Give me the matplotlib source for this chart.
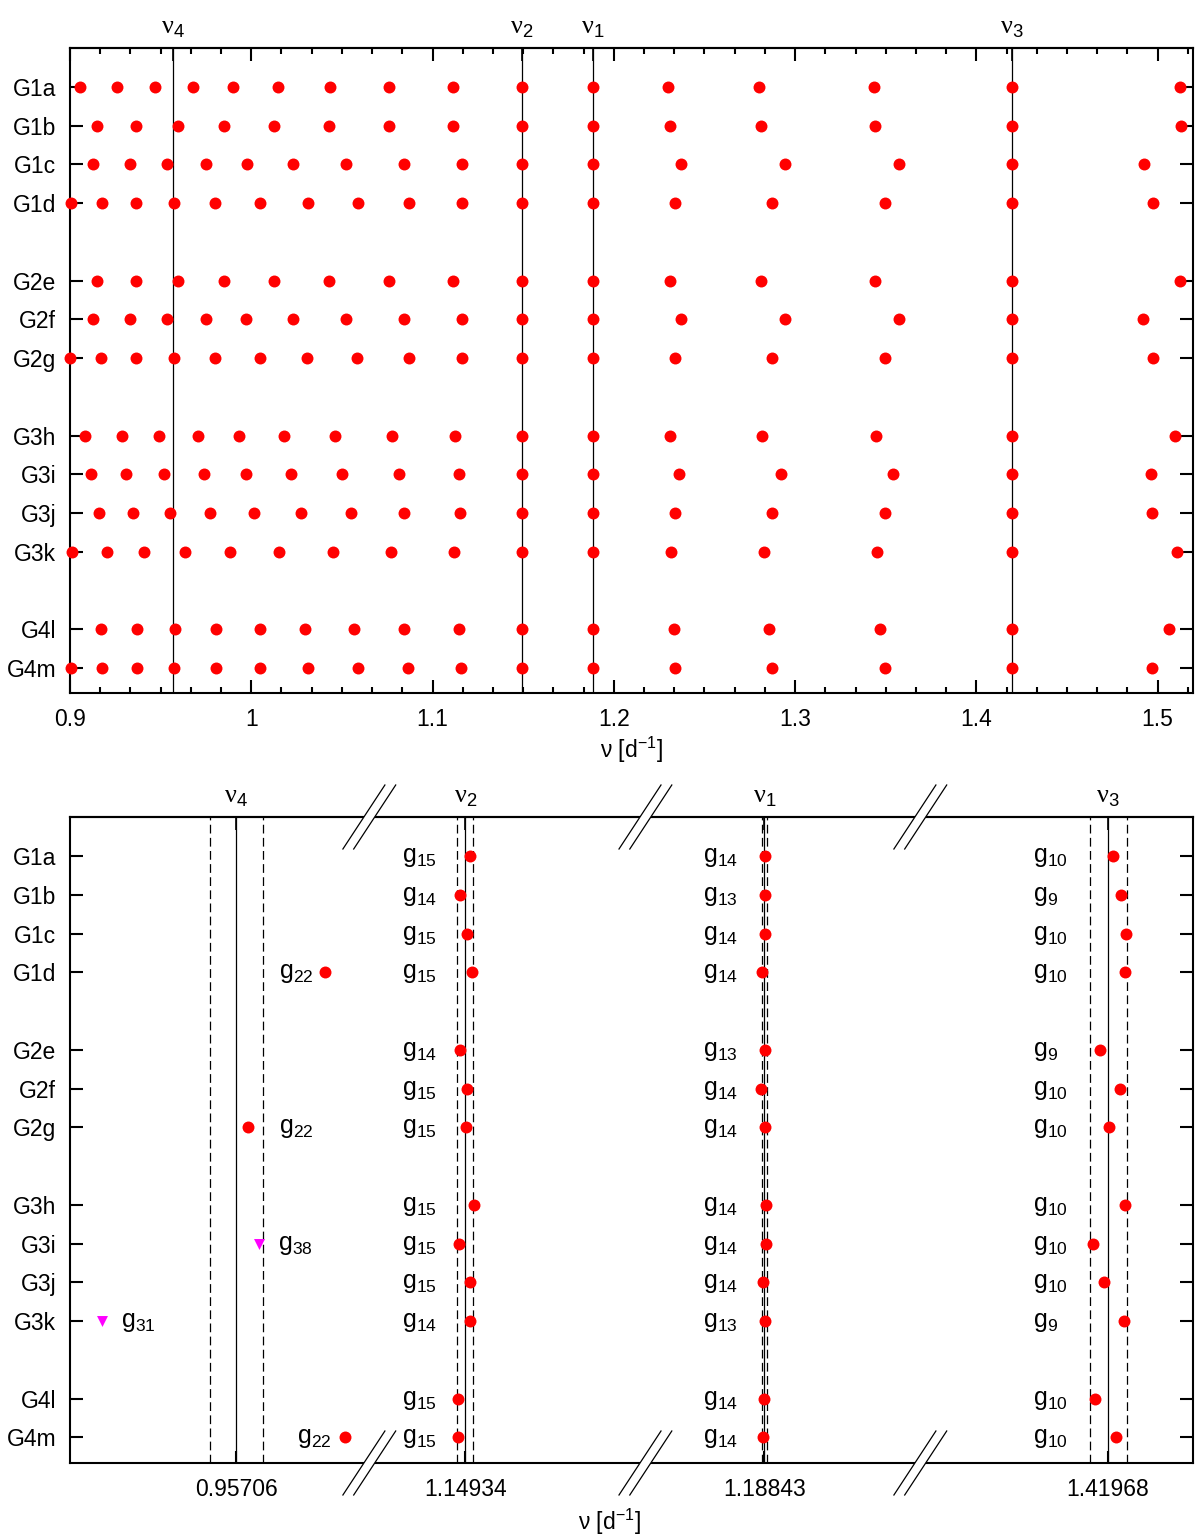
import matplotlib
matplotlib.use('Agg')
import matplotlib.pyplot as plt
from matplotlib.lines import Line2D
from matplotlib.patches import Polygon
from matplotlib.ticker import MultipleLocator, FuncFormatter

plt.rcParams['font.family'] = ['Liberation Sans', 'DejaVu Sans']
plt.rcParams['mathtext.fontset'] = 'custom'
plt.rcParams['mathtext.rm'] = 'Liberation Sans'
plt.rcParams['mathtext.it'] = 'Liberation Sans'
plt.rcParams['mathtext.bf'] = 'Liberation Sans:bold'
plt.rcParams['mathtext.cal'] = 'Liberation Serif'
plt.rcParams['mathtext.default'] = 'regular'

# ---------------- data ----------------
models = ['G1a', 'G1b', 'G1c', 'G1d', 'G2e', 'G2f', 'G2g',
          'G3h', 'G3i', 'G3j', 'G3k', 'G4l', 'G4m']
rows = [0, 1, 2, 3, 5, 6, 7, 9, 10, 11, 12, 14, 15]

nu_names = [r'$\mathcal{ν}_{4}$', r'$\mathcal{ν}_{2}$', r'$\mathcal{ν}_{1}$', r'$\mathcal{ν}_{3}$']
nu_obs = [0.95706, 1.14934, 1.18843, 1.41968]
nu_err = [0.000133, 0.000040, 0.0000105, 0.0000925]
nu_ticklabels = ['0.95706', '1.14934', '1.18843', '1.41968']

# model modes matched to nu2, nu1, nu3
f_nu2 = [1.149365, 1.149315, 1.149346, 1.149373, 1.149311, 1.149350, 1.149342,
         1.149384, 1.149308, 1.149363, 1.149361, 1.149304, 1.149304]
g_nu2 = [15, 14, 15, 15, 14, 15, 15, 15, 15, 15, 14, 15, 15]
f_nu1 = [1.188432, 1.188434, 1.188432, 1.188420, 1.188432, 1.188415, 1.188432,
         1.188438, 1.188438, 1.188425, 1.188432, 1.188426, 1.188423]
g_nu1 = [14, 13, 14, 14, 13, 14, 14, 14, 14, 14, 13, 14, 14]
f_nu3 = [1.419705, 1.419747, 1.419770, 1.419763, 1.419642, 1.419741, 1.419684,
         1.419766, 1.419606, 1.419659, 1.419759, 1.419617, 1.419720]
g_nu3 = [10, 9, 10, 10, 9, 10, 10, 10, 10, 10, 9, 10, 10]

# modes close to nu4
nu4_models = ['G1d', 'G2g', 'G4m']
nu4_freq = [0.957506, 0.957118, 0.957604]
nu4_g = [22, 22, 22]
tri_models = ['G3i', 'G3k']
tri_freq = [0.957173, 0.956389]
tri_g = [38, 31]

# remaining model frequencies (top panel)
freq_G1a = [0.90547, 0.92589, 0.94674, 0.96800, 0.99011, 1.01495, 1.04358, 1.07579, 1.11116, 1.23000, 1.28008, 1.34325, 1.51248]
freq_G1b = [0.91495, 0.93642, 0.95958, 0.98484, 1.01242, 1.04274, 1.07579, 1.11116, 1.23085, 1.28113, 1.34389, 1.51291]
freq_G1c = [0.91284, 0.93305, 0.95368, 0.97495, 0.99747, 1.02316, 1.05242, 1.08400, 1.11621, 1.23697, 1.29423, 1.35719, 1.49221]
freq_G1d = [0.90042, 0.91747, 0.93663, 0.98021, 1.00484, 1.03116, 1.05874, 1.08674, 1.11600, 1.23381, 1.28726, 1.34938, 1.49727]
freq_G2e = [0.91495, 0.93642, 0.95958, 0.98484, 1.01242, 1.04274, 1.07579, 1.11116, 1.23085, 1.28113, 1.34389, 1.51248]
freq_G2f = [0.91263, 0.93284, 0.95368, 0.97495, 0.99726, 1.02316, 1.05242, 1.08400, 1.11621, 1.23697, 1.29423, 1.35719, 1.49200]
freq_G2g = [0.90000, 0.91726, 0.93663, 0.98000, 1.00463, 1.03095, 1.05853, 1.08674, 1.11600, 1.23359, 1.28705, 1.34938, 1.49727]
freq_G3h = [0.90842, 0.92842, 0.94926, 0.97074, 0.99347, 1.01832, 1.04632, 1.07768, 1.11221, 1.23106, 1.28198, 1.34473, 1.50932]
freq_G3i = [0.91137, 0.93116, 0.95200, 0.97389, 0.99684, 1.02211, 1.05032, 1.08147, 1.11432, 1.23592, 1.29212, 1.35424, 1.49643]
freq_G3j = [0.91600, 0.93453, 0.95495, 0.97705, 1.00126, 1.02716, 1.05495, 1.08421, 1.11495, 1.23359, 1.28705, 1.34959, 1.49664]
freq_G3k = [0.90126, 0.92021, 0.94084, 0.96358, 0.98821, 1.01516, 1.04484, 1.07705, 1.11200, 1.23169, 1.28261, 1.34494, 1.51058]
freq_G4l = [0.91684, 0.93684, 0.95789, 0.98063, 1.00484, 1.02989, 1.05642, 1.08421, 1.11432, 1.23317, 1.28557, 1.34663, 1.50636]
freq_G4m = [0.90042, 0.91789, 0.93684, 0.98042, 1.00505, 1.03116, 1.05874, 1.08653, 1.11579, 1.23381, 1.28705, 1.34938, 1.49685]
other_freqs = [freq_G1a, freq_G1b, freq_G1c, freq_G1d, freq_G2e, freq_G2f, freq_G2g,
               freq_G3h, freq_G3i, freq_G3j, freq_G3k, freq_G4l, freq_G4m]

top_xlim = (0.9, 1.5195)
seg_xlim = [(0.9562295, 0.9577245), (1.148858, 1.150238),
            (1.187833, 1.189208), (1.418740, 1.420105)]

# ---------------- style ----------------
W, H = 1196, 1537
FS = 16.5
GFS = 18
NUFS = 19
RED = '#ff0000'
MAG = '#ff00ff'
SPW = 1.5
DOT_S = 74

fig = plt.figure(figsize=(W / 100, H / 100), dpi=100)


def fx(px):
    return px / W


def fy(py):
    return 1 - py / H


# ---------------- top panel ----------------
ax = fig.add_axes([fx(70), fy(693), fx(1193) - fx(70), fy(48) - fy(693)])
ax.set_xlim(*top_xlim)
ax.set_ylim(15.645, -1.006)
for s in ax.spines.values():
    s.set_linewidth(SPW)

for v in nu_obs:
    ax.axvline(v, color='black', lw=0.9, zorder=1)

for i, m in enumerate(models):
    xs = list(other_freqs[i]) + [f_nu2[i], f_nu1[i], f_nu3[i]]
    if m in nu4_models:
        xs.append(nu4_freq[nu4_models.index(m)])
    ax.scatter(xs, [rows[i]] * len(xs), s=DOT_S, color=RED, linewidths=0,
               zorder=3, clip_on=False)

ax.xaxis.set_major_locator(MultipleLocator(0.1))
ax.xaxis.set_minor_locator(MultipleLocator(0.1 / 6))
ax.xaxis.set_major_formatter(FuncFormatter(lambda x, p: f'{round(x, 4):g}'))
ax.tick_params(axis='x', which='major', direction='in', length=9.5, width=SPW,
               top=True, bottom=True, labelsize=FS, pad=11)
ax.tick_params(axis='x', which='minor', direction='in', length=4.5, width=SPW,
               top=True, bottom=True)
ax.set_yticks(rows)
ax.set_yticklabels(models)
ax.tick_params(axis='y', direction='in', length=9.5, width=SPW, left=True,
               right=True, labelsize=FS, pad=10)

sec = ax.secondary_xaxis('top')
sec.set_xticks(nu_obs, labels=nu_names)
sec.tick_params(direction='in', length=9.5, width=1.2, labelsize=NUFS, pad=6)
sec.spines['top'].set_linewidth(SPW)

fig.text(fx(631), fy(750), 'ν [d$^{-1}$]', fontsize=FS, ha='center', va='center')

# ---------------- bottom panel (broken axis) ----------------
seg_px = [70, 369, 645, 920, 1193]
label_dx = [None, -63.4, -61.4, -75.0]          # px, left edge of g labels
nu4_label_dx = [42.5, 42.5, 60.5]
tri_label_dx = [42.0, -115.0]
seg_freqs = [None, f_nu2, f_nu1, f_nu3]
seg_g = [None, g_nu2, g_nu1, g_nu3]
PT = 0.72  # points per pixel
LDY = -6.0 * PT


def glabel(axb, v, yr, g, dx):
    axb.annotate(f'g$_{{{g}}}$', xy=(v, yr), xytext=(dx * PT, LDY),
                 textcoords='offset points', ha='left', va='baseline',
                 fontsize=GFS)


for i in range(4):
    axb = fig.add_axes([fx(seg_px[i]), fy(1463), fx(seg_px[i + 1]) - fx(seg_px[i]),
                        fy(817) - fy(1463)])
    axb.set_xlim(*seg_xlim[i])
    axb.set_ylim(15.66, -1.006)
    for s in axb.spines.values():
        s.set_linewidth(SPW)
    if i > 0:
        axb.spines['left'].set_visible(False)
    if i < 3:
        axb.spines['right'].set_visible(False)

    v, e = nu_obs[i], nu_err[i]
    axb.axvline(v, color='black', lw=0.9, zorder=1)
    for d in (-e, e):
        axb.axvline(v + d, color='black', lw=0.9, ls=(0, (7, 3.5)), zorder=1)

    axb.set_xticks([v])
    axb.set_xticklabels([nu_ticklabels[i]])
    axb.tick_params(axis='x', direction='in', length=9, width=SPW, top=False,
                    bottom=True, labelsize=FS, pad=11)
    secb = axb.secondary_xaxis('top')
    secb.set_xticks([v], labels=[nu_names[i]])
    secb.tick_params(direction='in', length=9, width=1.2, labelsize=NUFS, pad=6)
    secb.spines['top'].set_linewidth(SPW)

    axb.set_yticks(rows)
    if i == 0:
        axb.set_yticklabels(models)
        axb.tick_params(axis='y', direction='in', length=9.5, width=SPW, left=True,
                        right=False, labelsize=FS, pad=10)
    elif i == 3:
        axb.tick_params(axis='y', direction='in', length=9.5, width=SPW, left=False,
                        right=True, labelleft=False)
    else:
        axb.tick_params(axis='y', left=False, right=False, labelleft=False)

    if i == 0:
        ys = [rows[models.index(m)] for m in nu4_models]
        axb.scatter(nu4_freq, ys, s=DOT_S, color=RED, linewidths=0, zorder=3)
        for yr, g, dx in zip(ys, nu4_g, nu4_label_dx):
            glabel(axb, v, yr, g, dx)
        yt = [rows[models.index(m)] for m in tri_models]
        axb.scatter(tri_freq, yt, s=62, marker='v', color=MAG, linewidths=0, zorder=3)
        for yr, g, dx in zip(yt, tri_g, tri_label_dx):
            glabel(axb, v, yr, g, dx)
    else:
        axb.scatter(seg_freqs[i], rows, s=DOT_S, color=RED, linewidths=0, zorder=3)
        for yr, g in zip(rows, seg_g[i]):
            glabel(axb, v, yr, g, label_dx[i])

fig.text(fx(609), fy(1522), 'ν [d$^{-1}$]', fontsize=FS, ha='center', va='center')

# break marks
for cx in (369.3, 645.4, 920.3):
    for cy in (817, 1463):
        o, dx, dy = 5.4, 21, 32
        poly = Polygon([(fx(cx - o - dx), fy(cy + dy)), (fx(cx - o + dx), fy(cy - dy)),
                        (fx(cx + o + dx), fy(cy - dy)), (fx(cx + o - dx), fy(cy + dy))],
                       closed=True, transform=fig.transFigure, facecolor='white',
                       edgecolor='none', zorder=10)
        fig.add_artist(poly)
        for s in (-o, o):
            ln = Line2D([fx(cx + s - dx), fx(cx + s + dx)], [fy(cy + dy), fy(cy - dy)],
                        transform=fig.transFigure, color='black', lw=0.9, zorder=11)
            fig.add_artist(ln)

fig.savefig('out.png', dpi=100, facecolor='white')
